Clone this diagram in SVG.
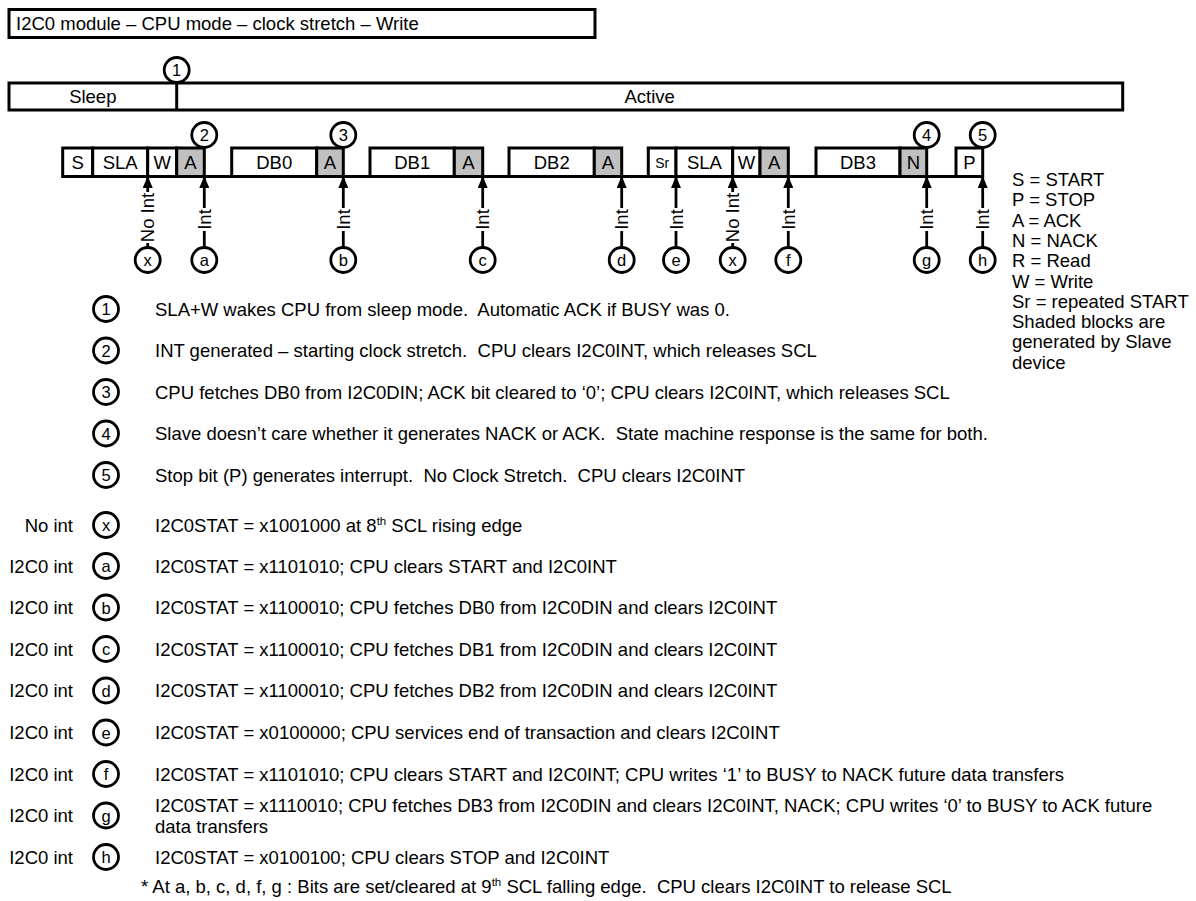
<svg xmlns="http://www.w3.org/2000/svg" width="1196" height="901" viewBox="0 0 1196 901">
<style>
text{font-family:"Liberation Sans",Arial,sans-serif;fill:#000;white-space:pre}
.t{font-size:18.5px}
.c{font-size:16.5px;text-anchor:middle}
.m{text-anchor:middle}
.e{text-anchor:end}
.box{fill:#fff;stroke:#000;stroke-width:3}
.sh{fill:#c0c0c0;stroke:#000;stroke-width:3}
.circ{fill:#fff;stroke:#000;stroke-width:2.8}
.ln{stroke:#000;stroke-width:3;fill:none}
.ar{stroke:#000;stroke-width:2.8;fill:none;marker-end:url(#ah)}
.wb{fill:#fff;stroke:none}
.sr{font-size:14px;text-anchor:middle}
</style>
<defs>
<marker id="ah" viewBox="0 0 12 10" refX="10" refY="5" markerWidth="12" markerHeight="10" markerUnits="userSpaceOnUse" orient="auto">
<path d="M0,0 L12,5 L0,10 z" fill="#000"/>
</marker>
</defs>

<g id="title">
<rect class="box" x="9" y="9.5" width="586" height="28"/>
<text class="t" x="16" y="30">I2C0 module – CPU mode – clock stretch – Write</text>
</g>

<g id="mode-bar">
<rect class="box" x="9" y="83" width="1113.7" height="27"/>
<text class="t m" x="92.8" y="103">Sleep</text>
<text class="t m" x="649.7" y="103">Active</text>
</g>

<g id="connectors">
<line class="ln" x1="62.7" y1="176.5" x2="982.7" y2="176.5"/>
<line class="ln" x1="176.7" y1="82" x2="176.7" y2="110"/>
<line class="ar" x1="147.7" y1="248" x2="147.7" y2="178"/>
<line class="ar" x1="204.3" y1="248" x2="204.3" y2="178"/>
<line class="ar" x1="343.3" y1="248" x2="343.3" y2="178"/>
<line class="ar" x1="482.7" y1="248" x2="482.7" y2="178"/>
<line class="ar" x1="621.7" y1="248" x2="621.7" y2="178"/>
<line class="ar" x1="676" y1="248" x2="676" y2="178"/>
<line class="ar" x1="732.7" y1="248" x2="732.7" y2="178"/>
<line class="ar" x1="788.3" y1="248" x2="788.3" y2="178"/>
<line class="ar" x1="926.7" y1="248" x2="926.7" y2="178"/>
<line class="ar" x1="982.7" y1="248" x2="982.7" y2="178"/>
<rect class="wb" x="141" y="192" width="13" height="51"/>
<text class="t m" transform="translate(154.4,217.5) rotate(-90)">No Int</text>
<rect class="wb" x="726" y="192" width="13" height="51"/>
<text class="t m" transform="translate(739.4,217.5) rotate(-90)">No Int</text>
<rect class="wb" x="198" y="208" width="13" height="23"/>
<text class="t m" transform="translate(211,219.5) rotate(-90)">Int</text>
<rect class="wb" x="337" y="208" width="13" height="23"/>
<text class="t m" transform="translate(350,219.5) rotate(-90)">Int</text>
<rect class="wb" x="476" y="208" width="13" height="23"/>
<text class="t m" transform="translate(489.4,219.5) rotate(-90)">Int</text>
<rect class="wb" x="615" y="208" width="13" height="23"/>
<text class="t m" transform="translate(628.4,219.5) rotate(-90)">Int</text>
<rect class="wb" x="669.5" y="208" width="13" height="23"/>
<text class="t m" transform="translate(682.7,219.5) rotate(-90)">Int</text>
<rect class="wb" x="782" y="208" width="13" height="23"/>
<text class="t m" transform="translate(795,219.5) rotate(-90)">Int</text>
<rect class="wb" x="920" y="208" width="13" height="23"/>
<text class="t m" transform="translate(933.4,219.5) rotate(-90)">Int</text>
<rect class="wb" x="976" y="208" width="13" height="23"/>
<text class="t m" transform="translate(989.4,219.5) rotate(-90)">Int</text>
</g>

<g id="frame1">
<rect class="box" x="62.7" y="148" width="30" height="28.5"/><text class="t m" x="77.7" y="169">S</text>
<rect class="box" x="92.7" y="148" width="55" height="28.5"/><text class="t m" x="120.2" y="169">SLA</text>
<rect class="box" x="147.7" y="148" width="29" height="28.5"/><text class="t m" x="162.2" y="169">W</text>
<rect class="sh" x="176.7" y="148" width="27.6" height="28.5"/><text class="t m" x="190.5" y="169">A</text>
</g>
<g id="frame-db0">
<rect class="box" x="231.7" y="148" width="85" height="28.5"/><text class="t m" x="274.2" y="169">DB0</text>
<rect class="sh" x="316.7" y="148" width="26.6" height="28.5"/><text class="t m" x="330" y="169">A</text>
</g>
<g id="frame-db1">
<rect class="box" x="370" y="148" width="84.3" height="28.5"/><text class="t m" x="412.2" y="169">DB1</text>
<rect class="sh" x="454.3" y="148" width="28.4" height="28.5"/><text class="t m" x="468.5" y="169">A</text>
</g>
<g id="frame-db2">
<rect class="box" x="509" y="148" width="85.3" height="28.5"/><text class="t m" x="551.7" y="169">DB2</text>
<rect class="sh" x="594.3" y="148" width="27.4" height="28.5"/><text class="t m" x="608" y="169">A</text>
</g>
<g id="frame2">
<rect class="box" x="648.3" y="148" width="27.7" height="28.5"/><text class="sr" x="662.2" y="167.5">Sr</text>
<rect class="box" x="676" y="148" width="56.7" height="28.5"/><text class="t m" x="704.4" y="169">SLA</text>
<rect class="box" x="732.7" y="148" width="27.3" height="28.5"/><text class="t m" x="746.4" y="169">W</text>
<rect class="sh" x="760" y="148" width="28.3" height="28.5"/><text class="t m" x="774.2" y="169">A</text>
</g>
<g id="frame-db3">
<rect class="box" x="816" y="148" width="84" height="28.5"/><text class="t m" x="858" y="169">DB3</text>
<rect class="sh" x="900" y="148" width="26.7" height="28.5"/><text class="t m" x="913.4" y="169">N</text>
</g>
<g id="stop">
<rect class="box" x="956" y="148" width="26.7" height="28.5"/><text class="t m" x="969.4" y="169">P</text>
</g>

<g id="marker-1"><circle class="circ" cx="176.7" cy="70" r="12.5"/><text class="c" x="176.7" y="76">1</text></g>
<g id="marker-2"><circle class="circ" cx="204.3" cy="135" r="12.5"/><text class="c" x="204.3" y="141">2</text></g>
<g id="marker-3"><circle class="circ" cx="343.3" cy="135" r="12.5"/><text class="c" x="343.3" y="141">3</text></g>
<g id="marker-4"><circle class="circ" cx="926.7" cy="135" r="12.5"/><text class="c" x="926.7" y="141">4</text></g>
<g id="marker-5"><circle class="circ" cx="982.7" cy="135" r="12.5"/><text class="c" x="982.7" y="141">5</text></g>

<g id="int-x1"><circle class="circ" cx="147.7" cy="260" r="12.5"/><text class="c" x="147.7" y="266">x</text></g>
<g id="int-a"><circle class="circ" cx="204.3" cy="260" r="12.5"/><text class="c" x="204.3" y="266">a</text></g>
<g id="int-b"><circle class="circ" cx="343.3" cy="260" r="12.5"/><text class="c" x="343.3" y="266">b</text></g>
<g id="int-c"><circle class="circ" cx="482.7" cy="260" r="12.5"/><text class="c" x="482.7" y="266">c</text></g>
<g id="int-d"><circle class="circ" cx="621.7" cy="260" r="12.5"/><text class="c" x="621.7" y="266">d</text></g>
<g id="int-e"><circle class="circ" cx="676" cy="260" r="12.5"/><text class="c" x="676" y="266">e</text></g>
<g id="int-x2"><circle class="circ" cx="732.7" cy="260" r="12.5"/><text class="c" x="732.7" y="266">x</text></g>
<g id="int-f"><circle class="circ" cx="788.3" cy="260" r="12.5"/><text class="c" x="788.3" y="266">f</text></g>
<g id="int-g"><circle class="circ" cx="926.7" cy="260" r="12.5"/><text class="c" x="926.7" y="266">g</text></g>
<g id="int-h"><circle class="circ" cx="982.7" cy="260" r="12.5"/><text class="c" x="982.7" y="266">h</text></g>

<g id="legend">
<text class="t" x="1012" y="186">S = START</text>
<text class="t" x="1012" y="206.3">P = STOP</text>
<text class="t" x="1012" y="226.6">A = ACK</text>
<text class="t" x="1012" y="246.9">N = NACK</text>
<text class="t" x="1012" y="267.2">R = Read</text>
<text class="t" x="1012" y="287.5">W = Write</text>
<text class="t" x="1012" y="307.8">Sr = repeated START</text>
<text class="t" x="1012" y="328.1">Shaded blocks are</text>
<text class="t" x="1012" y="348.4">generated by Slave</text>
<text class="t" x="1012" y="368.7">device</text>
</g>

<g id="note-1"><circle class="circ" cx="106" cy="309" r="12.5"/><text class="c" x="106" y="315">1</text><text class="t" x="155" y="315.5">SLA+W wakes CPU from sleep mode.  Automatic ACK if BUSY was 0.</text></g>
<g id="note-2"><circle class="circ" cx="106" cy="350.5" r="12.5"/><text class="c" x="106" y="356.5">2</text><text class="t" x="155" y="357">INT generated – starting clock stretch.  CPU clears I2C0INT, which releases SCL</text></g>
<g id="note-3"><circle class="circ" cx="106" cy="392" r="12.5"/><text class="c" x="106" y="398">3</text><text class="t" x="155" y="398.5">CPU fetches DB0 from I2C0DIN; ACK bit cleared to ‘0’; CPU clears I2C0INT, which releases SCL</text></g>
<g id="note-4"><circle class="circ" cx="106" cy="433.5" r="12.5"/><text class="c" x="106" y="439.5">4</text><text class="t" x="155" y="440">Slave doesn’t care whether it generates NACK or ACK.  State machine response is the same for both.</text></g>
<g id="note-5"><circle class="circ" cx="106" cy="475" r="12.5"/><text class="c" x="106" y="481">5</text><text class="t" x="155" y="481.5">Stop bit (P) generates interrupt.  No Clock Stretch.  CPU clears I2C0INT</text></g>

<g id="note-x"><text class="t e" x="73" y="531.5">No int</text><circle class="circ" cx="106" cy="525" r="12.5"/><text class="c" x="106" y="531">x</text><text class="t" x="155" y="531.5">I2C0STAT = x1001000 at 8<tspan font-size="11.5" dy="-7">th</tspan><tspan dy="7"> SCL rising edge</tspan></text></g>
<g id="note-a"><text class="t e" x="73" y="572.5">I2C0 int</text><circle class="circ" cx="106" cy="566" r="12.5"/><text class="c" x="106" y="572">a</text><text class="t" x="155" y="572.5">I2C0STAT = x1101010; CPU clears START and I2C0INT</text></g>
<g id="note-b"><text class="t e" x="73" y="614">I2C0 int</text><circle class="circ" cx="106" cy="607.5" r="12.5"/><text class="c" x="106" y="613.5">b</text><text class="t" x="155" y="614">I2C0STAT = x1100010; CPU fetches DB0 from I2C0DIN and clears I2C0INT</text></g>
<g id="note-c"><text class="t e" x="73" y="655.5">I2C0 int</text><circle class="circ" cx="106" cy="649" r="12.5"/><text class="c" x="106" y="655">c</text><text class="t" x="155" y="655.5">I2C0STAT = x1100010; CPU fetches DB1 from I2C0DIN and clears I2C0INT</text></g>
<g id="note-d"><text class="t e" x="73" y="697">I2C0 int</text><circle class="circ" cx="106" cy="690.5" r="12.5"/><text class="c" x="106" y="696.5">d</text><text class="t" x="155" y="697">I2C0STAT = x1100010; CPU fetches DB2 from I2C0DIN and clears I2C0INT</text></g>
<g id="note-e"><text class="t e" x="73" y="739">I2C0 int</text><circle class="circ" cx="106" cy="732.5" r="12.5"/><text class="c" x="106" y="738.5">e</text><text class="t" x="155" y="739">I2C0STAT = x0100000; CPU services end of transaction and clears I2C0INT</text></g>
<g id="note-f"><text class="t e" x="73" y="780.5">I2C0 int</text><circle class="circ" cx="106" cy="774" r="12.5"/><text class="c" x="106" y="780">f</text><text class="t" x="155" y="780.5">I2C0STAT = x1101010; CPU clears START and I2C0INT; CPU writes ‘1’ to BUSY to NACK future data transfers</text></g>
<g id="note-g"><text class="t e" x="73" y="822">I2C0 int</text><circle class="circ" cx="106" cy="815.5" r="12.5"/><text class="c" x="106" y="821.5">g</text><text class="t" x="155" y="811.5">I2C0STAT = x1110010; CPU fetches DB3 from I2C0DIN and clears I2C0INT, NACK; CPU writes ‘0’ to BUSY to ACK future</text><text class="t" x="155" y="833">data transfers</text></g>
<g id="note-h"><text class="t e" x="73" y="863.5">I2C0 int</text><circle class="circ" cx="106" cy="857" r="12.5"/><text class="c" x="106" y="863">h</text><text class="t" x="155" y="863.5">I2C0STAT = x0100100; CPU clears STOP and I2C0INT</text></g>

<g id="footnote"><text class="t" x="141" y="893">* At a, b, c, d, f, g : Bits are set/cleared at 9<tspan font-size="11.5" dy="-7">th</tspan><tspan dy="7"> SCL falling edge.  CPU clears I2C0INT to release SCL</tspan></text></g>
</svg>
